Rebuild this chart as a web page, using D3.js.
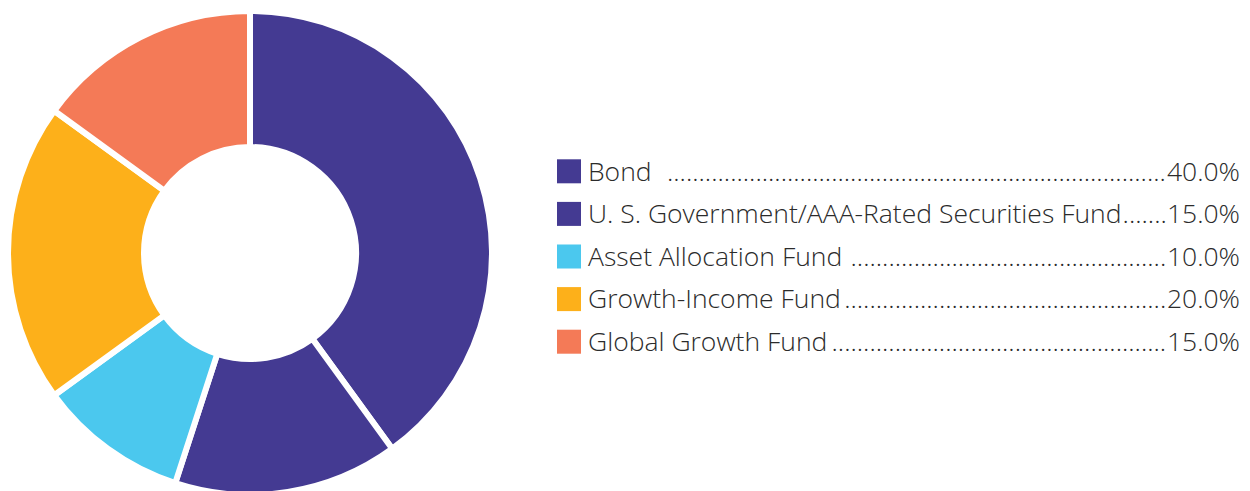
<!DOCTYPE html>
<html>
<head>
<meta charset="utf-8">
<script src="https://cdn.jsdelivr.net/npm/d3@7"></script>
<style>
  body { margin: 0; background: #fff; }
  svg text { font-family: "Open Sans", sans-serif; font-weight: 300; fill: #2b2b2b; white-space: pre; }
</style>
</head>
<body>
<svg width="1250" height="491"></svg>
<script>
// data
const funds = ["Bond", "U. S. Government/AAA-Rated Securities Fund", "Asset Allocation Fund", "Growth-Income Fund", "Global Growth Fund"];
const shares = [40.0, 15.0, 10.0, 20.0, 15.0];
const colors = ["#443a92", "#443a92", "#4bc8ee", "#fdb01a", "#f47a57"];
const labelGap = ["  ", "", " ", "", ""];

const svg = d3.select("svg");

// donut
const cx = 250, cy = 253, outerR = 242, innerR = 106;

const pie = d3.pie().sort(null).value((d) => d.value);
const arc = d3.arc().innerRadius(innerR).outerRadius(outerR);

const rows = funds.map((f, i) => ({ name: f, value: shares[i], color: colors[i], gap: labelGap[i] }));

svg
  .append("g")
  .attr("transform", `translate(${cx},${cy})`)
  .selectAll("path")
  .data(pie(rows))
  .enter()
  .append("path")
  .attr("d", arc)
  .attr("fill", (d) => d.data.color)
  .attr("stroke", "#fff")
  .attr("stroke-width", 6)
  .attr("stroke-linejoin", "miter");

// legend
const y = d3.scaleBand().domain(funds).range([150, 363]);
const fontSize = 26.5;
const rightEdge = 1240;

const legend = svg.append("g").attr("class", "legend");

rows.forEach((r) => {
  const g = legend.append("g").attr("transform", `translate(0,${y(r.name) + y.bandwidth() / 2})`);

  g.append("rect").attr("x", 557).attr("y", -12).attr("width", 24).attr("height", 24).attr("fill", r.color);

  const label = g
    .append("text")
    .attr("x", 588)
    .attr("dy", "0.35em")
    .attr("font-size", fontSize)
    .text(r.name + r.gap);

  const val = g
    .append("text")
    .attr("x", rightEdge)
    .attr("dy", "0.35em")
    .attr("text-anchor", "end")
    .attr("font-size", fontSize)
    .text(r.value.toFixed(1) + "%");

  // dot leaders fill the space between label and value
  const start = 588 + label.node().getComputedTextLength();
  const end = rightEdge - val.node().getComputedTextLength();
  const dots = g.append("text").attr("x", start).attr("dy", "0.35em").attr("font-size", fontSize).text(".");
  const dotW = dots.node().getComputedTextLength();
  const n = Math.max(0, Math.floor((end - start) / dotW));
  dots.text(".".repeat(n)).attr("x", end - n * dotW);
});
</script>
</body>
</html>
